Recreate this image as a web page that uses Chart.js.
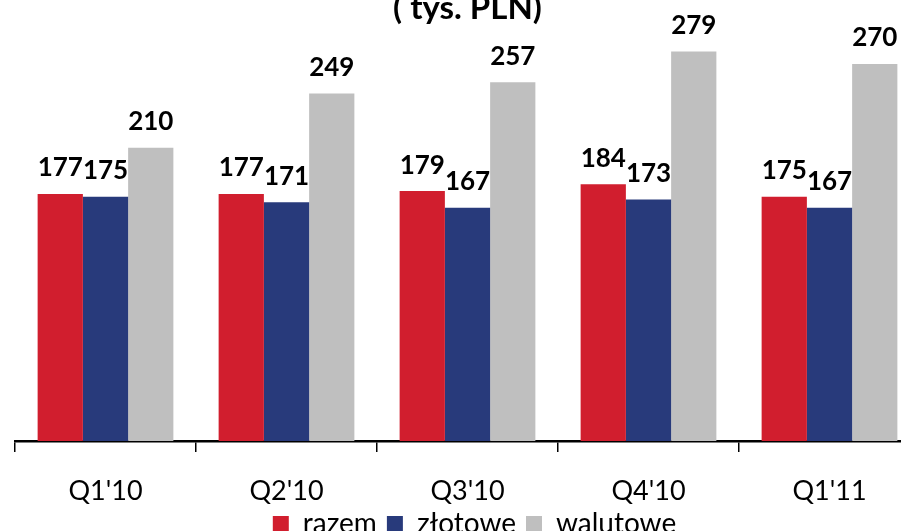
<!DOCTYPE html>
<html>
<head>
<meta charset="utf-8">
<script src="https://cdn.jsdelivr.net/npm/chart.js@4"></script>
<style>
    html, body { margin: 0; padding: 0; background: #fff; overflow: hidden; }
    body { width: 901px; height: 531px; position: relative; }
    #box { position: absolute; left: 0; top: -9px; width: 925px; height: 564px; }
</style>
</head>
<body>
<div id="box"><canvas id="grafico"></canvas></div>
<script>
// kwartały i wartości (tys. PLN)
const kwartaly = ["Q1'10", "Q2'10", "Q3'10", "Q4'10", "Q1'11"];
const razem = [177, 177, 179, 184, 175];
const zlotowe = [175, 171, 167, 173, 167];
const walutowe = [210, 249, 257, 279, 270];

const FONT = "Lato, 'Open Sans', sans-serif";

// etykiety nad słupkami
const etykiety = {
    id: "etykiety",
    afterDatasetsDraw(chart) {
        const ctx = chart.ctx;
        ctx.save();
        ctx.font = "bold 26px " + FONT;
        ctx.fillStyle = "#000";
        ctx.textAlign = "center";
        ctx.textBaseline = "middle";
        chart.data.datasets.forEach((ds, i) => {
            chart.getDatasetMeta(i).data.forEach((bar, j) => {
                ctx.fillText(ds.data[j], bar.x, bar.y - 26);
            });
        });
        ctx.restore();
    }
};

// legenda trochę wyżej i w prawo (jak w oryginale)
const przesunLegende = {
    id: "przesunLegende",
    afterLayout(chart) {
        const lg = chart.legend;
        lg.top -= 7; lg.bottom -= 7;
        lg.left += 7; lg.right += 7;
    }
};

new Chart(document.getElementById("grafico"), {
    type: "bar",
    data: {
        labels: kwartaly,
        datasets: [
            { label: "razem", data: razem, backgroundColor: "#D11E2E" },
            { label: "złotowe", data: zlotowe, backgroundColor: "#283A7B" },
            { label: "walutowe", data: walutowe, backgroundColor: "#BFBFBF" }
        ]
    },
    options: {
        responsive: true, maintainAspectRatio: false, animation: false,
        layout: { padding: { left: 15, right: 5, top: 0, bottom: 0 } },
        datasets: { bar: { categoryPercentage: 0.75, barPercentage: 1 } },
        plugins: {
            title: {
                display: true, text: "( tys. PLN)", color: "#000",
                font: { family: FONT, size: 33, weight: "bold", lineHeight: 1.03 },
                padding: { top: 0, bottom: 0 }
            },
            legend: {
                position: "bottom",
                labels: {
                    color: "#000", boxWidth: 16, boxHeight: 16, padding: 10,
                    font: { family: FONT, size: 28, lineHeight: 1 }
                }
            },
            tooltip: { enabled: false }
        },
        scales: {
            y: { display: false, min: 0, max: 298 },
            x: {
                border: { display: true, color: "#000", width: 2.5 },
                grid: { display: true, drawOnChartArea: false, color: "#000", lineWidth: 1.5, tickLength: 11, offset: true },
                ticks: { color: "#000", padding: 26, font: { family: FONT, size: 27, lineHeight: 1 } },
                afterFit: (s) => { s.height = 66; }
            }
        }
    },
    plugins: [etykiety, przesunLegende]
});
</script>
</body>
</html>
